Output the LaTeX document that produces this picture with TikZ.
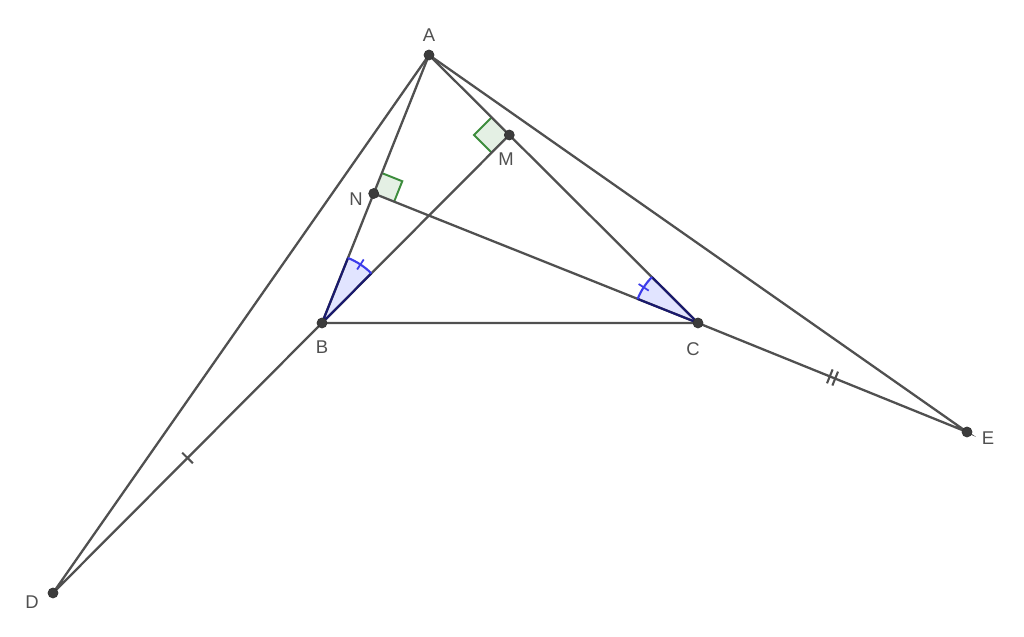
\documentclass[tikz,border=0pt]{standalone}
\usepackage{fontspec}
\setsansfont{Liberation Sans}
\usetikzlibrary{calc}
\definecolor{segcol}{RGB}{80,80,80}
\definecolor{ptcol}{RGB}{60,60,60}
\definecolor{angfill}{RGB}{225,228,255}
\definecolor{angedge}{RGB}{25,25,110}
\definecolor{angarc}{RGB}{60,60,235}
\definecolor{rafill}{RGB}{228,240,228}
\definecolor{raedge}{RGB}{60,140,60}
\begin{document}
\begin{tikzpicture}[
  seg/.style={segcol,line width=1.3pt},
  pt/.style={circle,fill=ptcol,draw=black!80,inner sep=0pt,minimum size=0.2cm},
  lbl/.style={text=segcol,font=\sffamily\fontsize{10.5}{12}\selectfont},
  tick/.style={segcol,line width=1.2pt}
]
\useasboundingbox (0,0) rectangle (20.48,12.74);

\coordinate (A) at (8.58,11.64);
\coordinate (B) at (6.44,6.28);
\coordinate (C) at (13.96,6.28);
\coordinate (D) at (1.06,0.88);
\coordinate (E) at (19.34,4.10);
\coordinate (M) at ($(A)!(B)!(C)$);
\coordinate (N) at ($(A)!(C)!(B)$);

% angle marks
\fill[angfill] (B) -- ++(45.2:1.4) arc[start angle=45.2,end angle=68.2,radius=1.4] -- cycle;
\fill[angfill] (C) -- ++(135.1:1.3) arc[start angle=135.1,end angle=158.3,radius=1.3] -- cycle;

% right angles
\coordinate (Na) at ($(N)!0.44cm!(A)$);
\coordinate (Nc) at ($(N)!0.44cm!(C)$);
\coordinate (Ma) at ($(M)!0.5cm!(A)$);
\coordinate (Mb) at ($(M)!0.5cm!(B)$);
\fill[rafill] (N) -- (Na) -- ($(Na)+(Nc)-(N)$) -- (Nc) -- cycle;
\fill[rafill] (M) -- (Ma) -- ($(Ma)+(Mb)-(M)$) -- (Mb) -- cycle;
\draw[raedge,line width=1.1pt] (Na) -- ($(Na)+(Nc)-(N)$) -- (Nc);
\draw[raedge,line width=1.1pt] (Ma) -- ($(Ma)+(Mb)-(M)$) -- (Mb);

% segments
\draw[seg] (A) -- (B) -- (C) -- cycle;
\draw[seg] (A) -- (D) -- (B);
\draw[seg] (B) -- (M);
\draw[seg] (C) -- (N);
\draw[seg] (A) -- (E) -- (C);

% angle edges
\draw[angedge,line width=1.2pt] (B) -- ++(45.2:1.4) (B) -- ++(68.2:1.4);
\draw[angarc,line width=1.2pt] ($(B)+(45.2:1.4)$) arc[start angle=45.2,end angle=68.2,radius=1.4];
\draw[angarc,line width=1pt] ($(B)+(56.7:1.28)$) -- ($(B)+(56.7:1.52)$);
\draw[angedge,line width=1.2pt] (C) -- ++(135.1:1.3) (C) -- ++(158.3:1.3);
\draw[angarc,line width=1.2pt] ($(C)+(135.1:1.3)$) arc[start angle=135.1,end angle=158.3,radius=1.3];
\draw[angarc,line width=1pt] ($(C)+(146.7:1.18)$) -- ($(C)+(146.7:1.42)$);

% equal-length ticks
\draw[tick] ($(B)!0.5!(D)!0.15cm!90:(D)$) -- ($(B)!0.5!(D)!0.15cm!-90:(D)$);
\draw[tick] ($(C)!0.49!(E)!0.15cm!90:(E)$) -- ($(C)!0.49!(E)!0.15cm!-90:(E)$);
\draw[tick] ($(C)!0.51!(E)!0.15cm!90:(E)$) -- ($(C)!0.51!(E)!0.15cm!-90:(E)$);

% points
\foreach \p in {A,B,C,D,E,M,N}
  \node[pt] (p\p) at (\p) {};

\node[lbl] (lA) at (8.58,12.04) {A};
\node[lbl] (lB) at (6.44,5.8) {B};
\node[lbl] (lC) at (13.86,5.76) {C};
\node[lbl] (lD) at (0.64,0.7) {D};
\node[lbl] (lE) at (19.76,3.98) {E};
\node[lbl] (lM) at (10.12,9.56) {M};
\node[lbl] (lN) at (7.12,8.76) {N};
\end{tikzpicture}
\end{document}
